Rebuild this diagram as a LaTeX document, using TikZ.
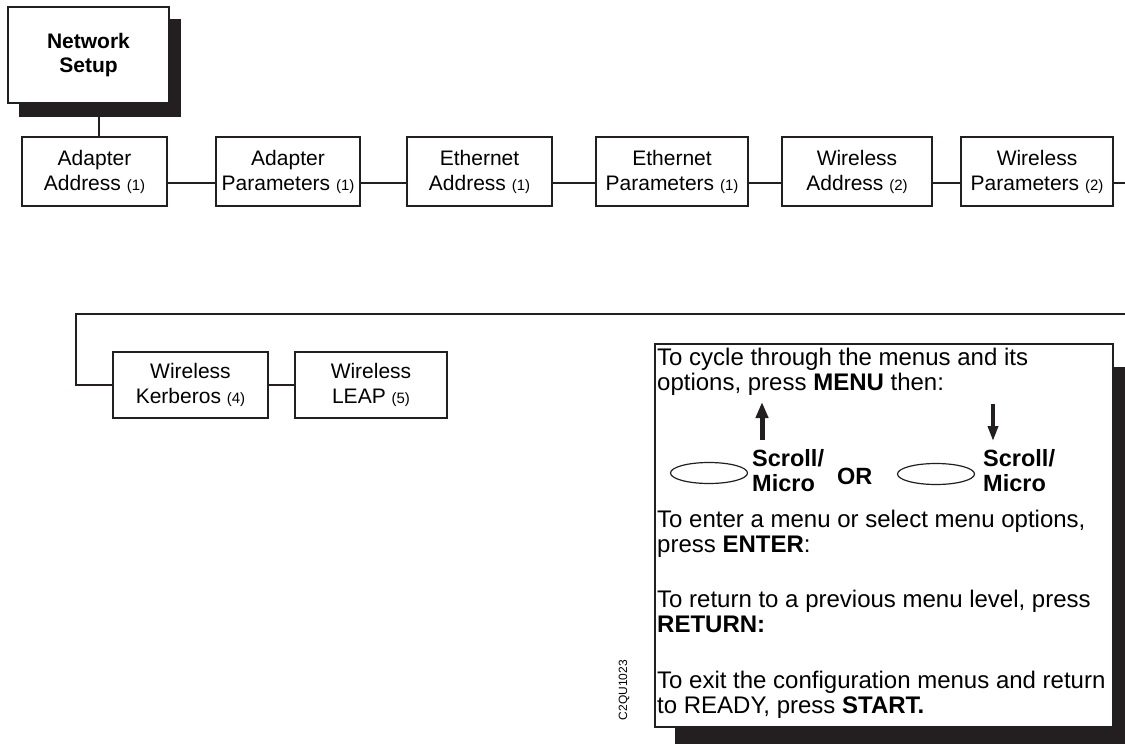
\documentclass[tikz,border=0pt]{standalone}
\usepackage{fontspec}
\setmainfont{Liberation Sans}
\usetikzlibrary{arrows.meta,shapes.geometric}
\definecolor{shadowcol}{RGB}{35,31,32}
\begin{document}
\begin{tikzpicture}[x=1pt,y=-1pt,
  menubox/.style={draw=shadowcol, line width=2pt, fill=white, rectangle, inner sep=0pt,
    minimum height=69pt, align=center, font=\fontsize{21}{25}\selectfont},
  topbox/.style={draw=shadowcol, line width=2.5pt, fill=white, rectangle, inner sep=0pt,
    minimum width=161pt, minimum height=96pt, align=center, font=\fontsize{21}{23.5}\selectfont\bfseries},
  link/.style={draw=shadowcol, line width=1.3pt},
  loopline/.style={draw=shadowcol, line width=2pt},
  infotext/.style={anchor=base west, inner sep=0pt, font=\fontsize{24}{25}\selectfont},
  keytext/.style={anchor=base west, inner sep=0pt, font=\fontsize{23.5}{25}\selectfont\bfseries},
  key/.style={draw=shadowcol, line width=1.2pt, ellipse, minimum width=77pt, minimum height=21pt, inner sep=0pt},
  shadowfill/.style={fill=shadowcol}
]
\useasboundingbox (0,0) rectangle (1125,744);
\clip (0,0) rectangle (1125,744);

% Network Setup with shadow
\fill[shadowfill] (19,19) rectangle (181,117);
\node[topbox] (net) at (88.5,55) {Network\\Setup};

% First row
\node[menubox, minimum width=145pt] (aa) at (94.5,171.5) {Adapter\\Address {\fontsize{15}{15}\selectfont(1)}};
\node[menubox, minimum width=144pt] (ap) at (288,171.5) {Adapter\\Parameters {\fontsize{15}{15}\selectfont(1)}};
\node[menubox, minimum width=145pt] (ea) at (479.5,171.5) {Ethernet\\Address {\fontsize{15}{15}\selectfont(1)}};
\node[menubox, minimum width=152pt] (ep) at (672,171.5) {Ethernet\\Parameters {\fontsize{15}{15}\selectfont(1)}};
\node[menubox, minimum width=150pt] (wa) at (857,171.5) {Wireless\\Address {\fontsize{15}{15}\selectfont(2)}};
\node[menubox, minimum width=152pt] (wp) at (1037,171.5) {Wireless\\Parameters {\fontsize{15}{15}\selectfont(2)}};

\draw[loopline] (net.south -| 99,0) -- (aa.north -| 99,0);
\draw[link] (aa.east |- 0,183) -- (ap.west |- 0,183);
\draw[link] (ap.east |- 0,183) -- (ea.west |- 0,183);
\draw[link] (ea.east |- 0,183) -- (ep.west |- 0,183);
\draw[link] (ep.east |- 0,183) -- (wa.west |- 0,183);
\draw[link] (wa.east |- 0,183) -- (wp.west |- 0,183);
\coordinate (out1) at (1130,183);
\draw[link] (wp.east |- 0,183) -- (out1);

% Second row
\node[menubox, minimum width=155pt, minimum height=66pt] (wk) at (190.5,385) {Wireless\\Kerberos {\fontsize{15}{15}\selectfont(4)}};
\node[menubox, minimum width=152pt, minimum height=66pt] (wl) at (371,385) {Wireless\\LEAP {\fontsize{15}{15}\selectfont(5)}};
\coordinate (in2) at (1130,314);
\coordinate (turn) at (76,314);
\draw[loopline] (in2) -- (turn) |- (wk.west);
\draw[loopline] (wk.east) -- (wl.west);

% Info panel with shadow
\fill[shadowfill] (675,367) rectangle (1140,760);
\node[draw=shadowcol, line width=1.2pt, fill=white, rectangle, inner sep=0pt,
  minimum width=458pt, minimum height=383pt] (info) at (884,535.5) {};

\node[infotext] (t1) at (657,365) {To cycle through the menus and its};
\node[infotext] (t2) at (657,390) {options, press \textbf{MENU} then:};

\node[key] (k1) at (709,473) {};
\node[key] (k2) at (936,474) {};
\draw[draw=shadowcol, line width=5pt, -{Triangle[width=12pt,length=16pt]}] (762,440) -- (762,402);
\draw[draw=shadowcol, line width=3.5pt, -{Triangle[width=10pt,length=15pt]}] (993,404) -- (993,441);
\node[keytext] (s1) at (752,466) {Scroll/};
\node[keytext] (m1) at (752,491) {Micro};
\node[keytext] (or) at (837,484) {OR};
\node[keytext] (s2) at (983,466) {Scroll/};
\node[keytext] (m2) at (983,491) {Micro};

\node[infotext] (t3) at (657,527) {To enter a menu or select menu options,};
\node[infotext] (t4) at (657,552) {press \textbf{ENTER}:};
\node[infotext] (t5) at (657,607) {To return to a previous menu level, press};
\node[infotext] (t6) at (657,632) {\textbf{RETURN:}};
\node[infotext] (t7) at (657,688) {To exit the configuration menus and return};
\node[infotext] (t8) at (657,713) {to READY, press \textbf{START.}};

\node[rotate=90, inner sep=0pt, font=\fontsize{12}{12}\selectfont] (code) at (624,690) {C2QU1023};
\end{tikzpicture}
\end{document}
